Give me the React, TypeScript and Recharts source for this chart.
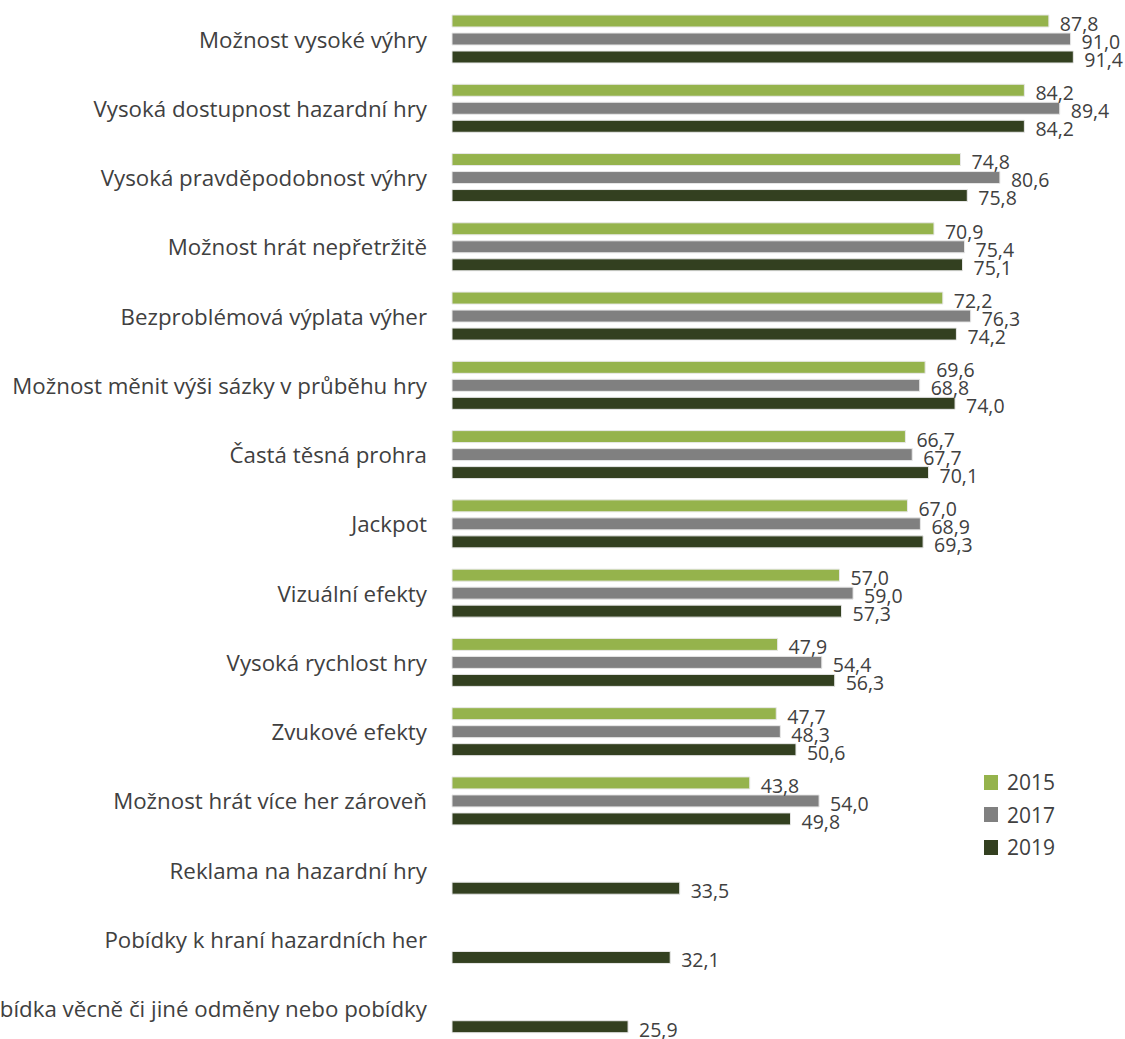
import React from 'react';
import { BarChart, Bar, XAxis, YAxis, LabelList } from 'recharts';

const categories = [
  'Možnost vysoké výhry',
  'Vysoká dostupnost hazardní hry',
  'Vysoká pravděpodobnost výhry',
  'Možnost hrát nepřetržitě',
  'Bezproblémová výplata výher',
  'Možnost měnit výši sázky v průběhu hry',
  'Častá těsná prohra',
  'Jackpot',
  'Vizuální efekty',
  'Vysoká rychlost hry',
  'Zvukové efekty',
  'Možnost hrát více her zároveň',
  'Reklama na hazardní hry',
  'Pobídky k hraní hazardních her',
  'Nabídka věcně či jiné odměny nebo pobídky',
];

const values2015 = [87.8, 84.2, 74.8, 70.9, 72.2, 69.6, 66.7, 67.0, 57.0, 47.9, 47.7, 43.8, null, null, null];
const values2017 = [91.0, 89.4, 80.6, 75.4, 76.3, 68.8, 67.7, 68.9, 59.0, 54.4, 48.3, 54.0, null, null, null];
const values2019 = [91.4, 84.2, 75.8, 75.1, 74.2, 74.0, 70.1, 69.3, 57.3, 56.3, 50.6, 49.8, 33.5, 32.1, 25.9];

const series = [
  { key: 'y2015', name: '2015', color: '#95b34c' },
  { key: 'y2017', name: '2017', color: '#808080' },
  { key: 'y2019', name: '2019', color: '#334020' },
];

const data = categories.map((name, i) => ({
  name,
  y2015: values2015[i],
  y2017: values2017[i],
  y2019: values2019[i],
}));

const fmt = (v: any) => (v == null ? '' : Number(v).toFixed(1).replace('.', ','));

const FONT = '"Open Sans", "Noto Sans", sans-serif';

export default function App() {
  return (
    <div style={{ position: 'absolute', left: 0, top: 0, width: 1125, height: 1039, background: '#fff', overflow: 'hidden' }}>
      <BarChart
        width={1125}
        height={1039}
        data={data}
        layout="vertical"
        margin={{ top: 5, right: 0, left: 0, bottom: -5 }}
        barCategoryGap={10}
        barGap={6}
      >
        <XAxis type="number" domain={[0, 99]} hide />
        <YAxis
          type="category"
          dataKey="name"
          width={452}
          axisLine={false}
          tickLine={false}
          tickMargin={19}
          interval={0}
          tick={{ fontSize: 22.3, fill: '#404040', fontFamily: FONT }}
        />
        {series.map((s) => (
          <Bar key={s.key} dataKey={s.key} name={s.name} fill={s.color} stroke="#e8e8e8" strokeWidth={1} isAnimationActive={false}>
            <LabelList
              dataKey={s.key}
              position="right"
              offset={11}
              formatter={fmt}
              dy={3}
              style={{ fontSize: 19.5, fill: '#404040', fontFamily: FONT }}
            />
          </Bar>
        ))}
      </BarChart>
      <div style={{ position: 'absolute', left: 984, top: 766, fontFamily: FONT, fontSize: 21, color: '#404040' }}>
        {series.map((s) => (
          <div key={s.key} style={{ display: 'flex', alignItems: 'center', height: 32.5 }}>
            <span style={{ width: 14, height: 15, background: s.color, display: 'inline-block', marginRight: 9 }} />
            {s.name}
          </div>
        ))}
      </div>
    </div>
  );
}
